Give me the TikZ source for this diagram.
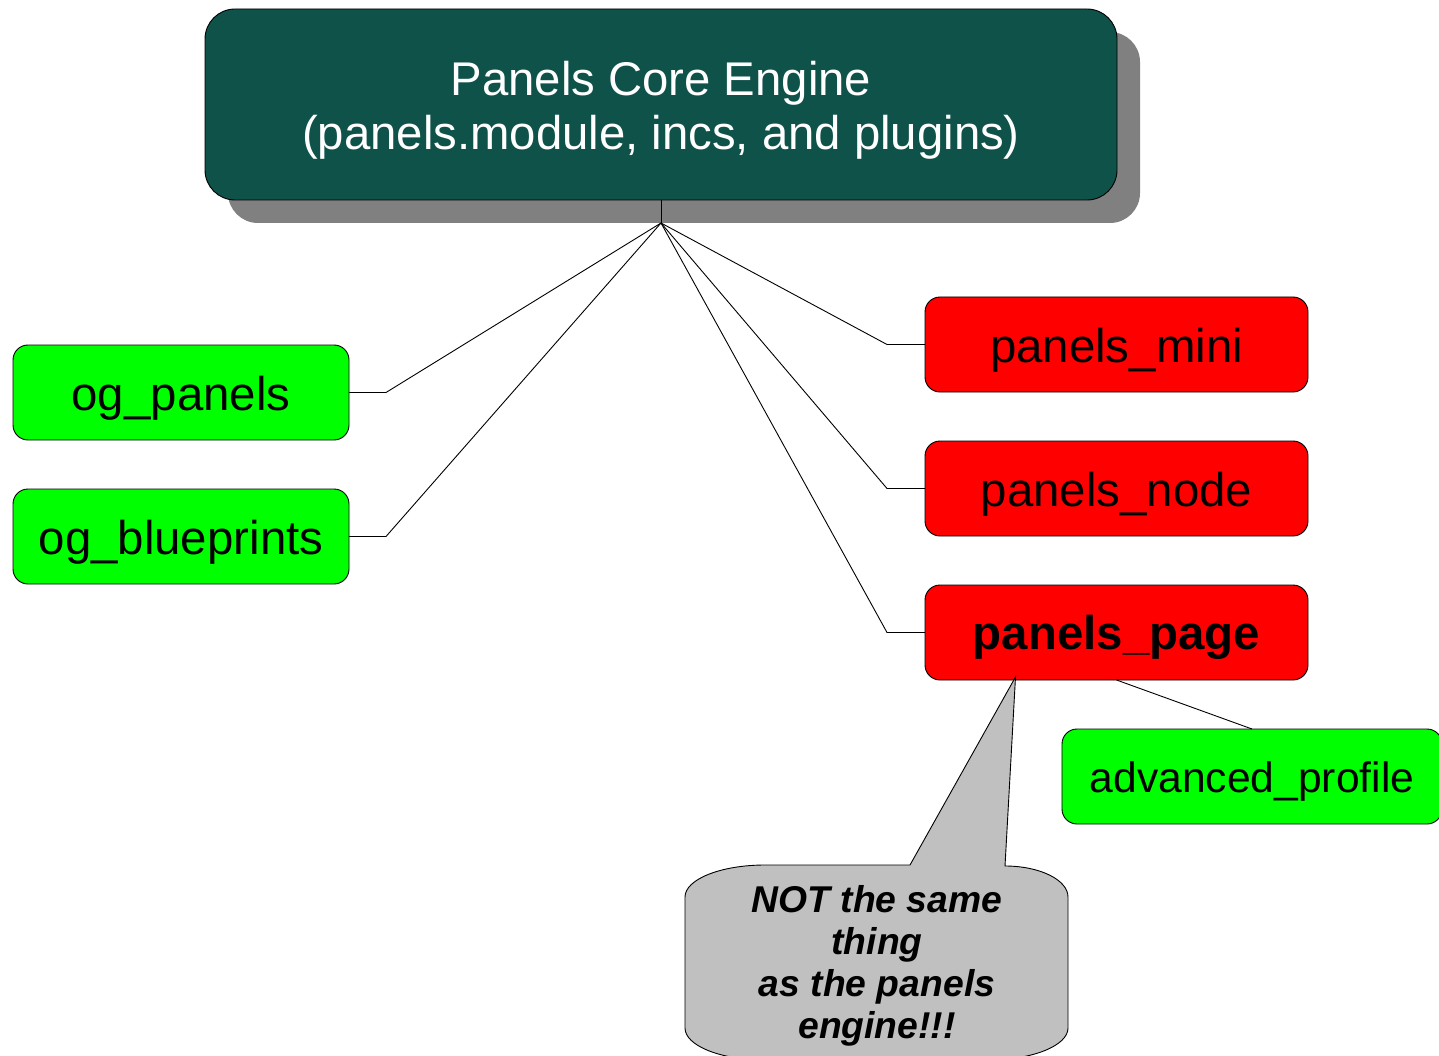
\documentclass[tikz,border=0pt]{standalone}
\usepackage{fontspec}
\setmainfont{Liberation Sans}
\usetikzlibrary{shadows}
\definecolor{coreteal}{RGB}{15,82,74}
\definecolor{shadowgray}{RGB}{128,128,128}
\definecolor{boxgreen}{RGB}{0,255,0}
\definecolor{boxred}{RGB}{255,0,0}
\definecolor{calloutgray}{RGB}{192,192,192}
\begin{document}
\begin{tikzpicture}[x=1pt,y=-1pt,
  box/.style={draw=black, line width=0.9pt, rounded corners=15pt, inner sep=0pt, outer sep=0pt,
    minimum height=95pt, font=\fontsize{47.4}{54}\selectfont},
  greenbox/.style={box, fill=boxgreen},
  redbox/.style={box, fill=boxred, minimum width=383pt},
  link/.style={draw=black, line width=0.9pt}]
\useasboundingbox (0,0) rectangle (1439,1056);
\clip (0,0) rectangle (1439,1056);
\fill[white] (0,0) rectangle (1439,1056);

\node[draw=black, line width=0.9pt, fill=coreteal, rounded corners=30pt, minimum width=912pt,
  minimum height=191pt, inner sep=0pt, outer sep=0pt, text=white, align=center,
  font=\fontsize{47.3}{54}\selectfont,
  drop shadow={shadow xshift=23pt, shadow yshift=-23pt, fill=shadowgray, opacity=1}]
  (core) at (661,104.5) {\rule{0pt}{45pt}Panels Core Engine\\(panels.module, incs, and plugins)};

\coordinate (hub) at (661,223);

\node[greenbox, minimum width=336pt] (ogp) at (181,392.5) {\rule{0pt}{45pt}og\_panels};
\node[greenbox, minimum width=336pt] (ogb) at (181,536.5) {\rule{0pt}{45pt}og\_blueprints};
\node[redbox] (pmini) at (1116.5,344.5) {\rule{0pt}{45pt}panels\_mini};
\node[redbox] (pnode) at (1116.5,488.5) {\rule{0pt}{45pt}panels\_node};
\node[redbox, font=\fontsize{47.4}{54}\selectfont\bfseries] (ppage) at (1116.5,632.5) {\rule{0pt}{45pt}panels\_page};
\node[greenbox, minimum width=380pt, font=\fontsize{42.6}{50}\selectfont] (adv) at (1252,776.5) {\rule{0pt}{41pt}advanced\_profile};

\draw[link] (core.south) -- (hub);
\draw[link] (hub) -- ([xshift=37pt]ogp.east) -- (ogp.east);
\draw[link] (hub) -- ([xshift=37pt]ogb.east) -- (ogb.east);
\draw[link] (hub) -- ([xshift=-38pt]pmini.west) -- (pmini.west);
\draw[link] (hub) -- ([xshift=-38pt]pnode.west) -- (pnode.west);
\draw[link] (hub) -- ([xshift=-38pt]ppage.west) -- (ppage.west);
\draw[link] (ppage.south) -- (adv.north);

\coordinate (tip) at ([xshift=-101pt, yshift=3pt]ppage.south);
\draw[fill=calloutgray, line width=0.9pt]
  (685,1028) -- (685,897) .. controls (685,879.3) and (720.8,865) .. (765,865)
  -- (910,865) -- (tip) -- (1005,866)
  .. controls (1040,866) and (1068,880) .. (1068,897)
  -- (1068,1028) .. controls (1068,1045.7) and (1032.2,1060) .. (988,1060)
  -- (765,1060) .. controls (720.8,1060) and (685,1045.7) .. (685,1028) -- cycle;

\node[font=\fontsize{37.3}{42}\selectfont\bfseries\itshape, align=center, inner sep=0pt]
  (note) at (877,962) {\rule{0pt}{35pt}NOT the same\\thing\\as the panels\\engine!!!};
\end{tikzpicture}
\end{document}
